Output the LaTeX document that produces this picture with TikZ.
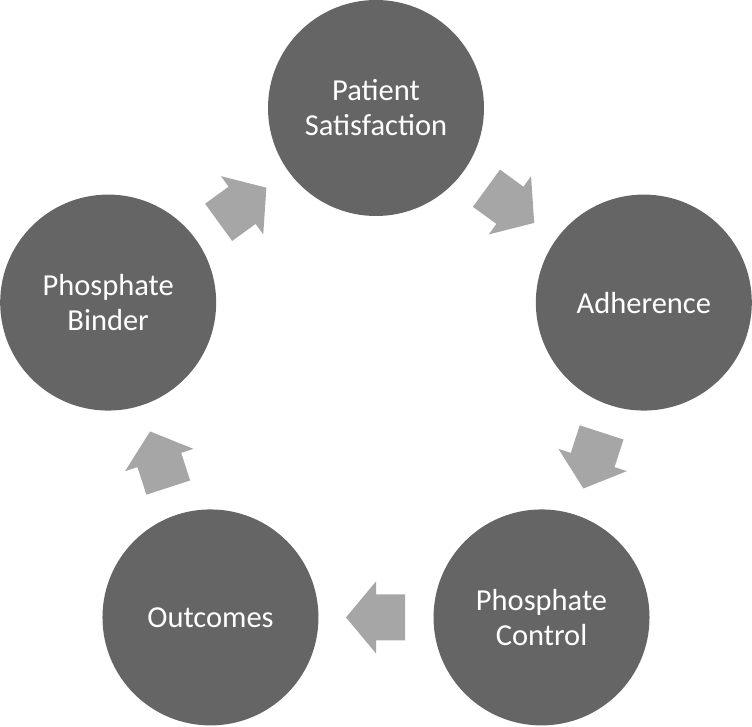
\documentclass[tikz,border=0pt]{standalone}
\usepackage{fontspec}
\setmainfont{Carlito}
\usetikzlibrary{calc}

\definecolor{stagegray}{HTML}{656565}
\definecolor{arrowgray}{HTML}{A6A6A6}

\begin{document}
\begin{tikzpicture}[x=1pt, y=1pt,
  stage/.style={circle, fill=stagegray, minimum size=216pt, inner sep=0pt,
    text=white, align=center, font=\fontsize{30.5}{35}\selectfont},
  flow/.style={fill=arrowgray}]

\useasboundingbox (-376,-336.4) rectangle (376,389.6);

\node[stage] (sat) at (90:281.6) {Patient\\Satisfaction};
\node[stage] (adh) at (18:281.6) {Adherence};
\node[stage] (ctl) at (-54:281.6) {Phosphate\\Control};
\node[stage] (out) at (-126:281.6) {Outcomes};
\node[stage] (bin) at (162:281.6) {Phosphate\\Binder};

\foreach \a/\b/\ang in {sat/adh/-36, adh/ctl/-108, ctl/out/180, out/bin/108, bin/sat/36}
{
	\begin{scope}[shift={($(\a)!0.5!(\b)$)}, rotate=\ang]
	\fill[flow] (-29,-23) -- (0,-23) -- (0,-36) -- (30,0) -- (0,36) -- (0,23) -- (-29,23) -- cycle;
	\end{scope}
}

\end{tikzpicture}
\end{document}
